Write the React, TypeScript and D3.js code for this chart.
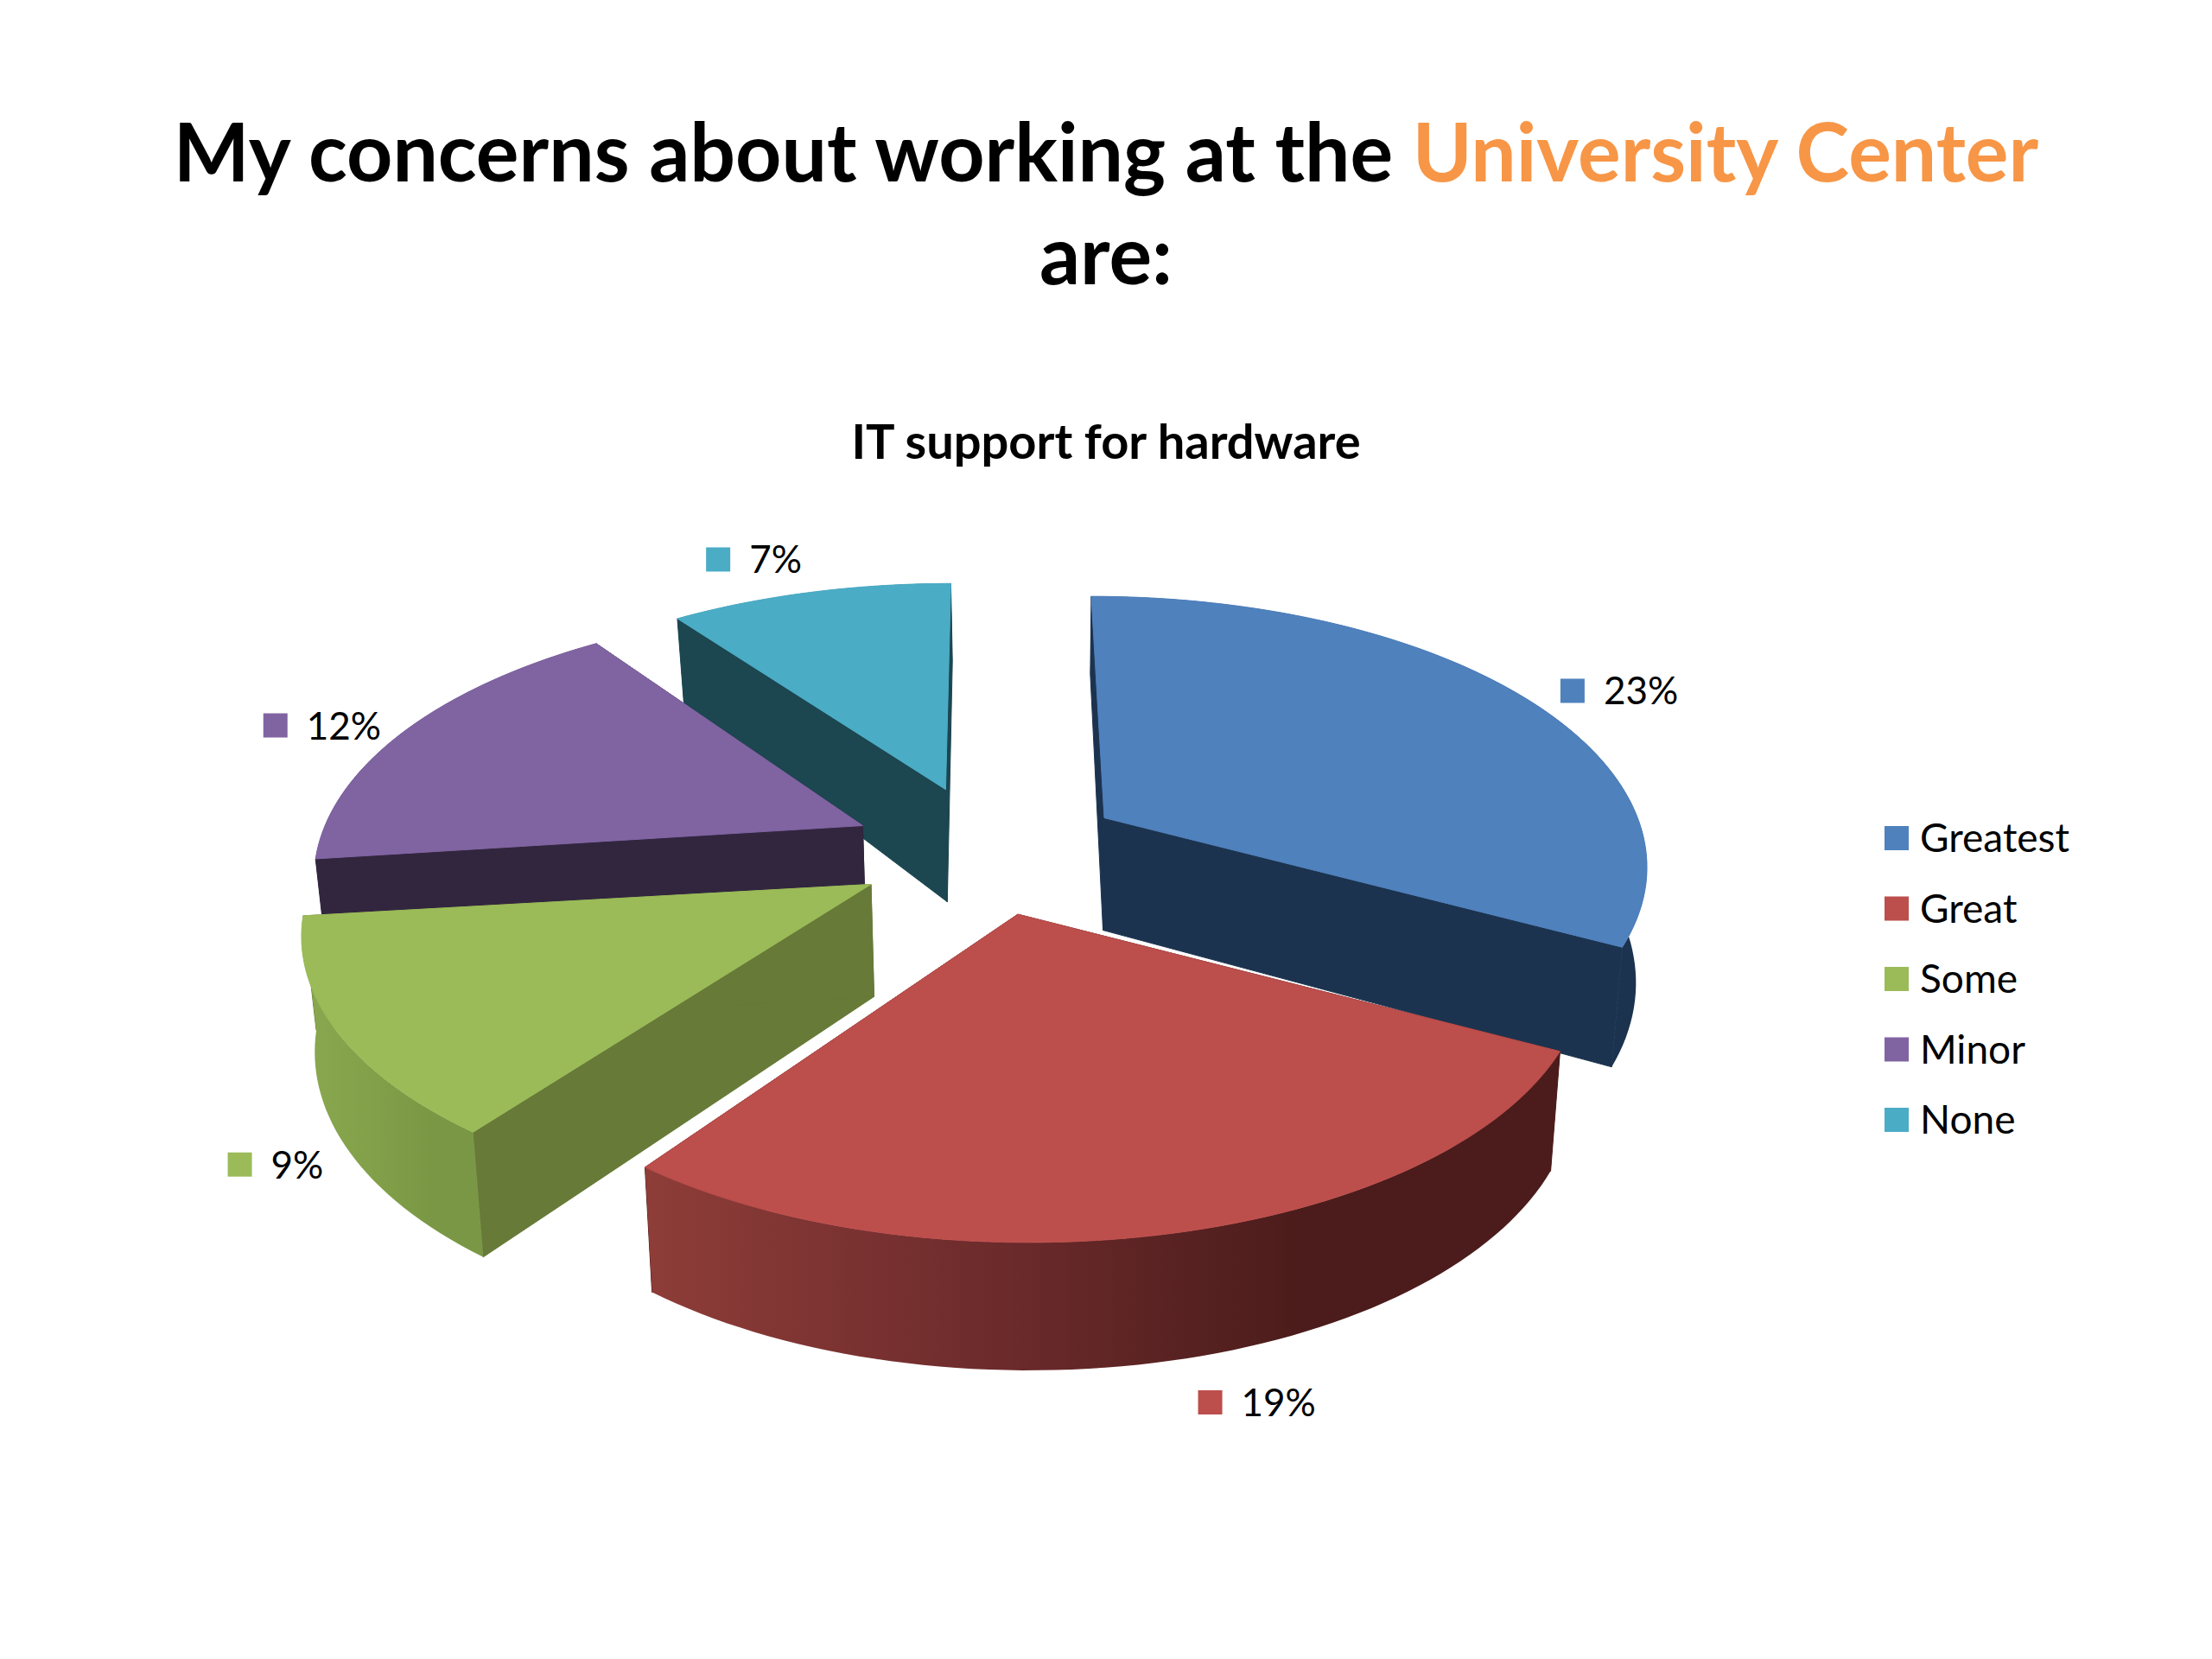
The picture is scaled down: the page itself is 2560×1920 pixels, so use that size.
import * as d3 from "d3"

const categories = ["Greatest", "Great", "Some", "Minor", "None"]
const shares = [23, 19, 9, 12, 7]

const topColors = ["#4f81bd", "#bc4e4c", "#9bbb59", "#8064a2", "#4bacc6"]
const sideColors = ["#1c334f", "#4c1c1b", "#677a38", "#32263f", "#1c4650"]
const wallStops = [
  ["#1c334f", "#1c334f", "#1c334f"],
  ["#8e3d38", "#6b2a2b", "#4b1c1b"],
  ["#8aa84f", "#82a049", "#7a9745"],
  ["#32263f", "#32263f", "#32263f"],
  ["#1c4650", "#1c4650", "#1c4650"],
]
// marker position relative to the rim point at the middle of each slice
const labelNudges = [[54, -8], [47, 198], [-126, 152], [-145, -7], [-101, -28]]
// the picture's rims sit a little off the ideal projection
const rimShifts = [[-15, -8], [13, 1], [-16, -5], [8, -3], [6, 10]]

const WIDTH = 2560
const HEIGHT = 1920
const FONT = "Lato, 'Noto Sans', sans-serif"

// pie plane seen in perspective
const cx = 1143
const cy = 985
const rx = 629
const ry = 300
const persp = 0.208
const explode = 0.25
const vanishX = 1200

const pie = d3.pie<number>().sort(null)
const arcs = pie(shares)

type Pt = [number, number]

const planar = (a: number) => {
  const X = Math.sin(a)
  const Y = -Math.cos(a)
  const s = 1 / (1 - persp * Y)
  return { x: X * rx * s, y: Y * ry * s, Y }
}

function apexOf(mid: number): Pt {
  return [cx + explode * rx * Math.sin(mid), cy - explode * ry * Math.cos(mid)]
}

function rimPoint(apex: Pt, a: number): Pt {
  const p = planar(a)
  return [apex[0] + p.x, apex[1] + p.y]
}

// same point on the underside of the slice, thinner towards the back
function drop(pt: Pt, Y: number): Pt {
  const depth = 130 + (Y < 0 ? 40 : 18) * Y
  return [pt[0] + (vanishX - pt[0]) * 0.018, pt[1] + depth]
}

const line = d3.line<Pt>()

function rimAngles(a0: number, a1: number) {
  const n = Math.max(8, Math.ceil((a1 - a0) * 40))
  return d3.range(n + 1).map((i) => a0 + ((a1 - a0) * i) / n)
}

function Slice({ index }: { index: number }) {
  const arc = arcs[index]
  const mid = (arc.startAngle + arc.endAngle) / 2
  const apex = apexOf(mid)
  const angles = rimAngles(arc.startAngle, arc.endAngle)
  const rim = angles.map((a): Pt => {
    const p = rimPoint(apex, a)
    return [p[0] + rimShifts[index][0], p[1] + rimShifts[index][1]]
  })
  const under = angles.map((a, i) => drop(rim[i], planar(a).Y))
  const apexUnder = drop(apex, 0)

  const first = rim[0]
  const last = rim[rim.length - 1]
  const face = (p: Pt, q: Pt) => line([apex, p, q, apexUnder])! + "Z"

  return (
    <g>
      <path d={face(first, under[0])} fill={sideColors[index]} stroke={sideColors[index]} strokeWidth={1} />
      <path d={face(last, under[under.length - 1])} fill={sideColors[index]} stroke={sideColors[index]} strokeWidth={1} />
      <path d={line([...rim, ...[...under].reverse()])! + "Z"} fill={`url(#wall-${index})`} />
      <path d={line([apex, ...rim])! + "Z"} fill={topColors[index]} stroke={topColors[index]} strokeWidth={1} />
    </g>
  )
}

function DataLabel({ index }: { index: number }) {
  const arc = arcs[index]
  const mid = (arc.startAngle + arc.endAngle) / 2
  const rim = rimPoint(apexOf(mid), mid)
  const mx = rim[0] + labelNudges[index][0]
  const my = rim[1] + labelNudges[index][1]
  return (
    <g>
      <rect x={mx - 14} y={my - 14} width={28} height={28} fill={topColors[index]} />
      <text x={mx + 36} y={my + 16} fontSize={44} fill="#000">{shares[index]}%</text>
    </g>
  )
}

export default function App() {
  const legendY = d3.scalePoint<string>().domain(categories).range([970, 1296])
  // back slices first so the front ones cover them
  const drawOrder = [4, 0, 3, 2, 1]

  return (
    <svg
      width={WIDTH}
      height={HEIGHT}
      viewBox={`0 0 ${WIDTH} ${HEIGHT}`}
      style={{ position: "absolute", left: 0, top: 0, background: "#fff" }}
      fontFamily={FONT}
    >
      <defs>
        {wallStops.map((stops, i) => (
          <linearGradient key={i} id={`wall-${i}`} x1="0" x2="1" y1="0" y2="0">
            <stop offset="0" stopColor={stops[0]} />
            <stop offset="0.4" stopColor={stops[1]} />
            <stop offset="0.72" stopColor={stops[2]} />
            <stop offset="1" stopColor={stops[2]} />
          </linearGradient>
        ))}
      </defs>

      <text x={1280} y={210} textAnchor="middle" fontSize={93} fontWeight={700} fill="#000">
        My concerns about working at the <tspan fill="#f79646">University Center</tspan>
      </text>
      <text x={1280} y={329} textAnchor="middle" fontSize={93} fontWeight={700} fill="#000">are:</text>
      <text x={1280} y={531} textAnchor="middle" fontSize={56} fontWeight={700} fill="#000">IT support for hardware</text>

      {drawOrder.map((i) => <Slice key={i} index={i} />)}
      {shares.map((_, i) => <DataLabel key={i} index={i} />)}

      {categories.map((c, i) => (
        <g key={c}>
          <rect x={2181} y={legendY(c)! - 14} width={28} height={28} fill={topColors[i]} />
          <text x={2222} y={legendY(c)! + 16} fontSize={46} fill="#000">{c}</text>
        </g>
      ))}
    </svg>
  )
}
